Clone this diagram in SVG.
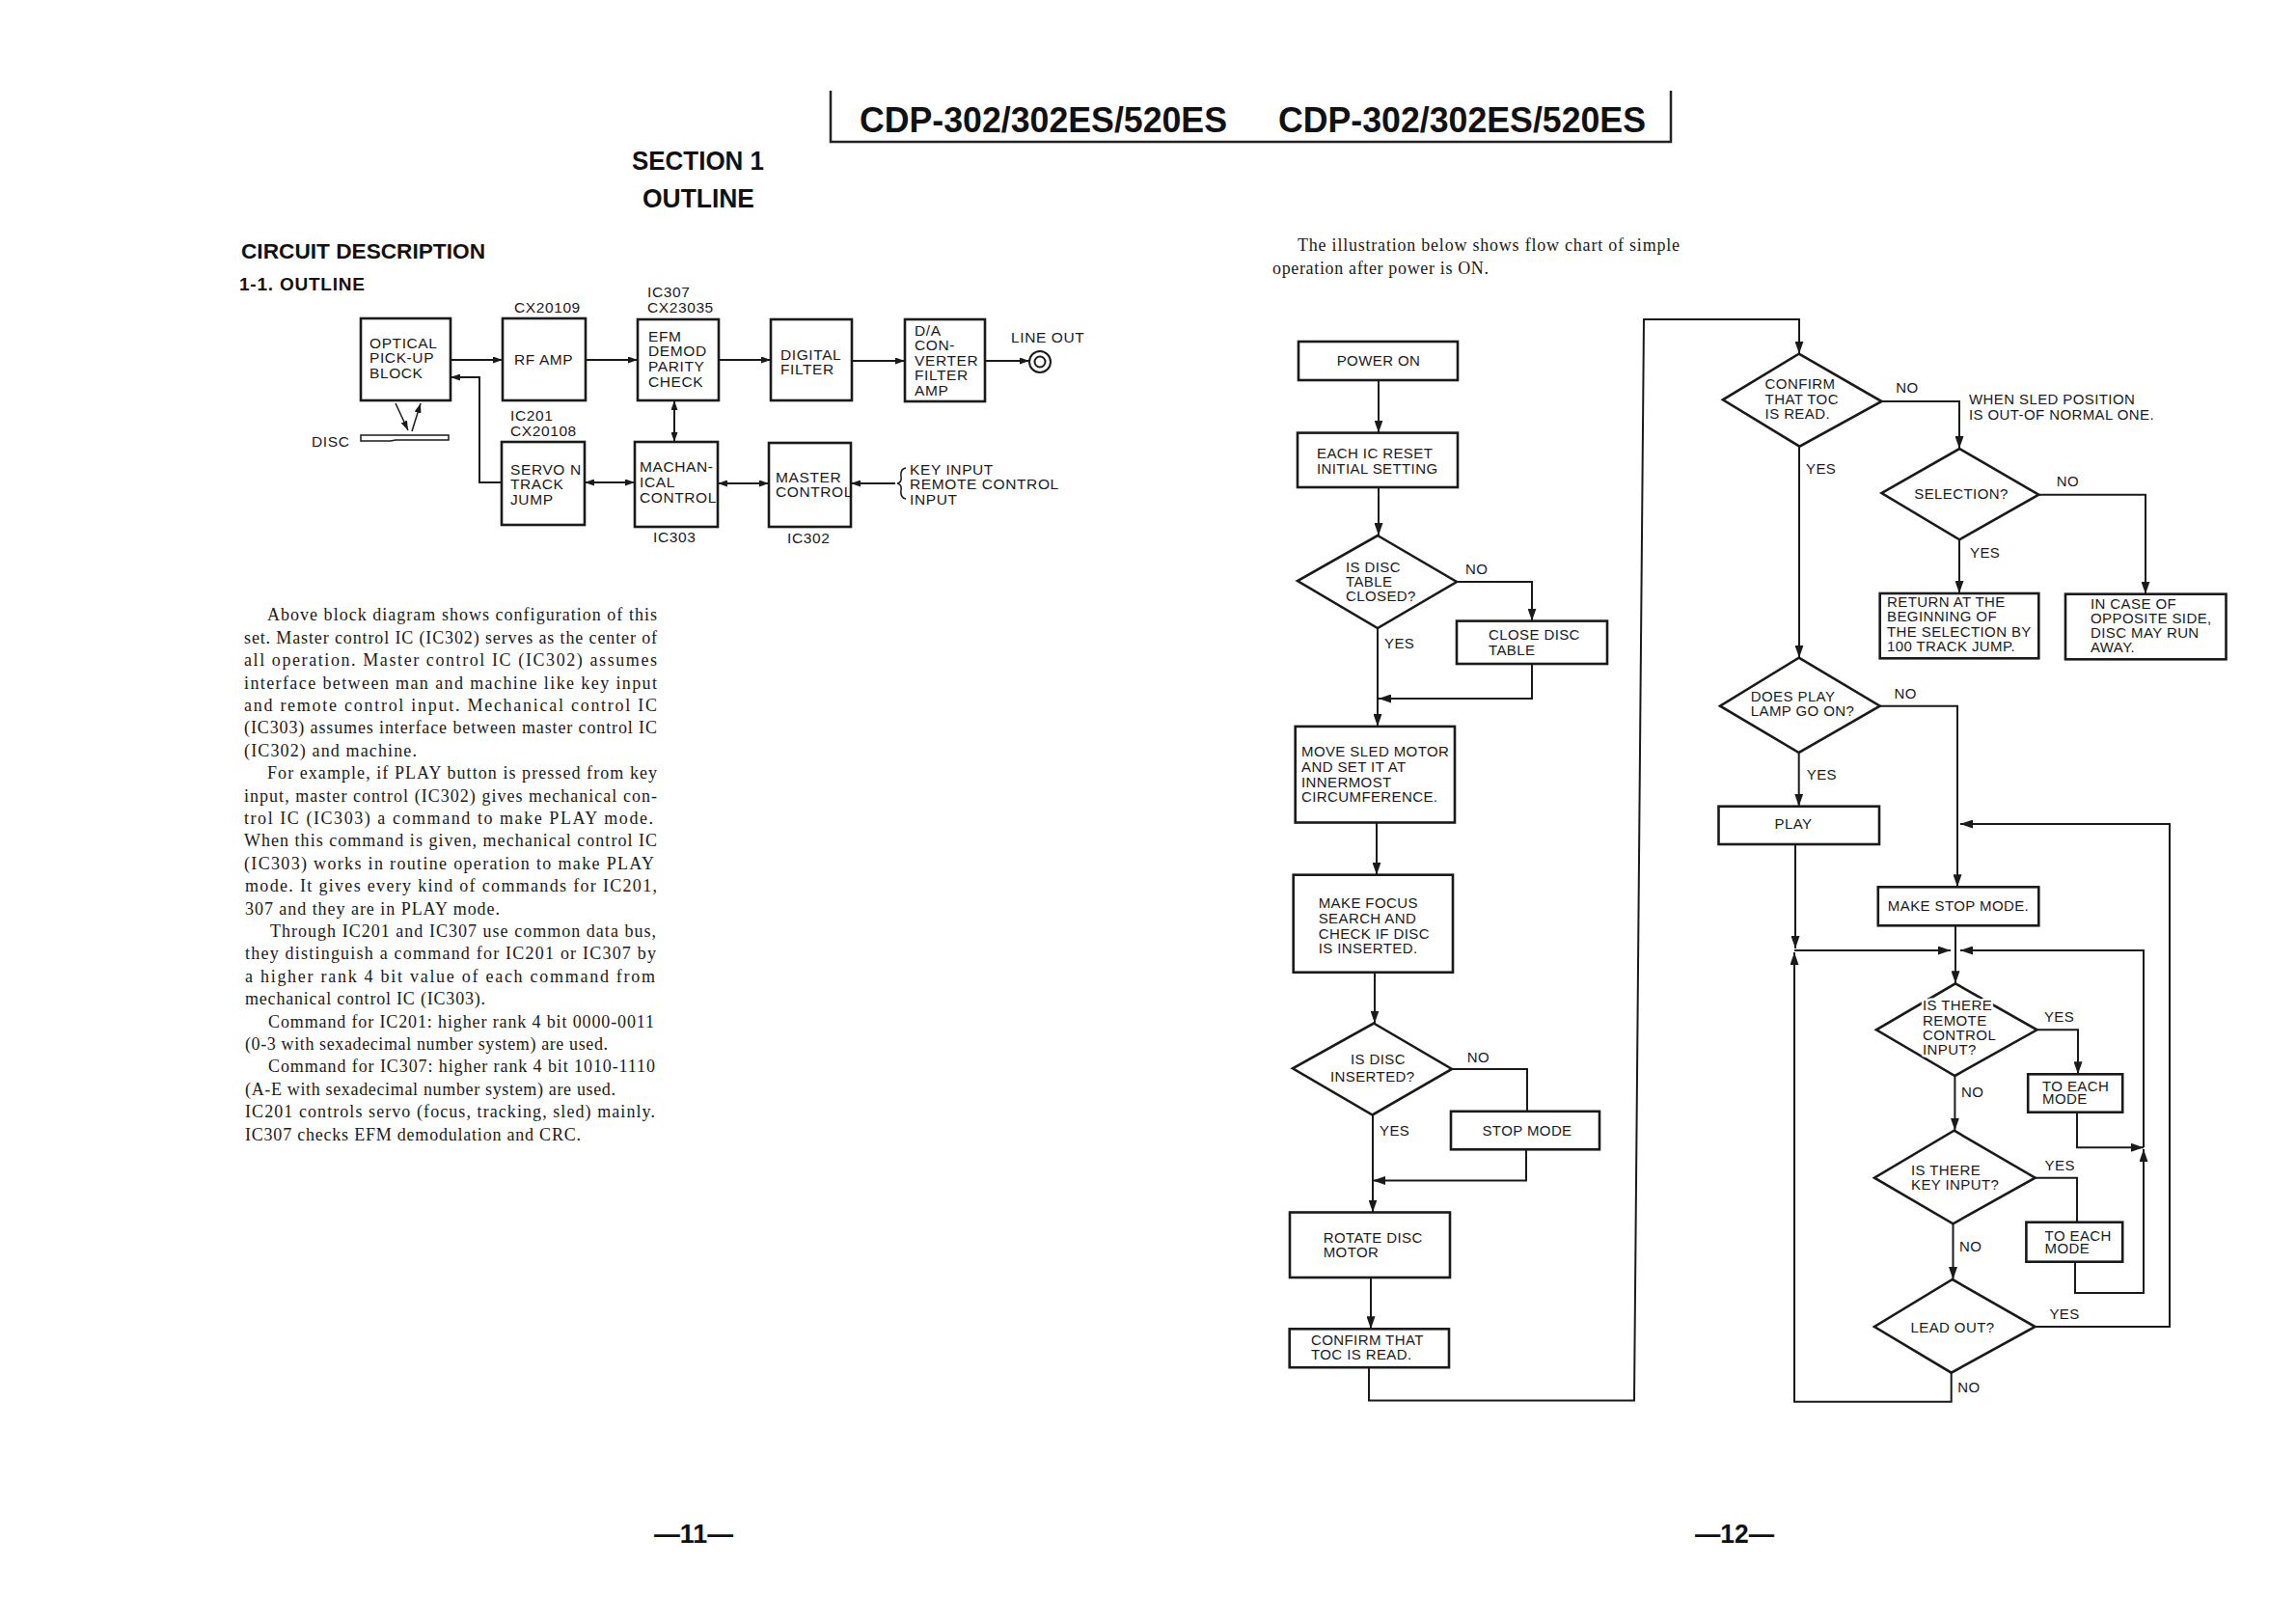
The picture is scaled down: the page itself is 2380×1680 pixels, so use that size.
<svg xmlns="http://www.w3.org/2000/svg" width="2380" height="1680" viewBox="0 0 2380 1680">
<style>
.bg{fill:#ffffff}
.box{fill:#ffffff;stroke:#1a1a1a;stroke-width:2.6}
.ln{fill:none;stroke:#1a1a1a;stroke-width:2}
.thin{fill:none;stroke:#1a1a1a;stroke-width:1.5}
.fc{font-family:"Liberation Sans",Arial,sans-serif;font-size:15px;letter-spacing:0.4px;fill:#1a1a1a}
.bd{font-family:"Liberation Sans",Arial,sans-serif;font-size:15.5px;letter-spacing:0.6px;fill:#1a1a1a}
.para{font-family:"Liberation Serif","Times New Roman",serif;font-size:18px;fill:#1a1a1a}
.hdr{font-family:"Liberation Sans",Arial,sans-serif;font-weight:bold;fill:#111}
.halo{stroke:#ffffff;stroke-width:5px;paint-order:stroke;stroke-linejoin:round}
.mid{text-anchor:middle}
</style>
<defs>
<marker id="ah" markerUnits="userSpaceOnUse" markerWidth="13" markerHeight="9" refX="13" refY="4.5" orient="auto-start-reverse">
<path d="M0,0 L13,4.5 L0,9 z" fill="#1a1a1a"/>
</marker>
<marker id="as" markerUnits="userSpaceOnUse" markerWidth="10" markerHeight="7" refX="10" refY="3.5" orient="auto-start-reverse">
<path d="M0,0 L10,3.5 L0,7 z" fill="#1a1a1a"/>
</marker>
</defs>
<rect class="bg" x="0" y="0" width="2380" height="1680"/>

<!-- Header -->
<g id="header">
<path d="M861,94 V147 H1732 V94" fill="none" stroke="#222" stroke-width="2.5"/>
<text class="hdr" x="891" y="137" font-size="37" textLength="381" lengthAdjust="spacingAndGlyphs">CDP-302/302ES/520ES</text>
<text class="hdr" x="1325" y="137" font-size="37" textLength="381" lengthAdjust="spacingAndGlyphs">CDP-302/302ES/520ES</text>
</g>
<g id="section-title">
<text class="hdr" x="655" y="176" font-size="28" textLength="137" lengthAdjust="spacingAndGlyphs">SECTION 1</text>
<text class="hdr" x="666" y="215" font-size="28" textLength="116" lengthAdjust="spacingAndGlyphs">OUTLINE</text>
<text class="hdr" x="250" y="268" font-size="22" textLength="253" lengthAdjust="spacingAndGlyphs">CIRCUIT DESCRIPTION</text>
<text class="hdr" x="248" y="301" font-size="19" textLength="130" lengthAdjust="spacing">1-1.  OUTLINE</text>
</g>

<!-- Block diagram connectors -->
<g id="block-connectors">
<path class="ln" d="M467,373 H521" marker-end="url(#as)"/>
<path class="ln" d="M607,373 H661" marker-end="url(#as)"/>
<path class="ln" d="M745,373 H799" marker-end="url(#as)"/>
<path class="ln" d="M883,374 H938" marker-end="url(#as)"/>
<path class="ln" d="M1021,374 H1067" marker-end="url(#as)"/>
<path class="ln" d="M520,500 H497 V391 H467" marker-end="url(#as)"/>
<path class="ln" d="M699,415 V458" marker-start="url(#as)" marker-end="url(#as)"/>
<path class="ln" d="M606,500 H658" marker-start="url(#as)" marker-end="url(#as)"/>
<path class="ln" d="M744,501 H797" marker-start="url(#as)" marker-end="url(#as)"/>
<path class="ln" d="M928,501 H882" marker-end="url(#as)"/>
<path class="thin" d="M410,418 L423,446" marker-end="url(#as)"/>
<path class="thin" d="M427,447 L436,418" marker-end="url(#as)"/>
</g>

<!-- Block diagram nodes -->
<g id="b-optical">
<rect class="box" x="374" y="330" width="93" height="85"/>
<text class="bd" x="383" y="361">OPTICAL</text>
<text class="bd" x="383" y="376">PICK-UP</text>
<text class="bd" x="383" y="392">BLOCK</text>
</g>
<g id="b-disc">
<text class="bd" x="323" y="463">DISC</text>
<path d="M374,451 H465 V456 H410 L405,457 H374 Z" fill="none" stroke="#1a1a1a" stroke-width="1.5"/>
</g>
<g id="b-rfamp">
<text class="bd" x="533" y="324">CX20109</text>
<rect class="box" x="521" y="330" width="86" height="85"/>
<text class="bd" x="533" y="378">RF AMP</text>
</g>
<g id="b-efm">
<text class="bd" x="671" y="308">IC307</text>
<text class="bd" x="671" y="324">CX23035</text>
<rect class="box" x="661" y="331" width="84" height="84"/>
<text class="bd" x="672" y="354">EFM</text>
<text class="bd" x="672" y="369">DEMOD</text>
<text class="bd" x="672" y="385">PARITY</text>
<text class="bd" x="672" y="401">CHECK</text>
</g>
<g id="b-digital">
<rect class="box" x="799" y="331" width="84" height="84"/>
<text class="bd" x="809" y="373">DIGITAL</text>
<text class="bd" x="809" y="388">FILTER</text>
</g>
<g id="b-da">
<rect class="box" x="938" y="331" width="83" height="85"/>
<text class="bd" x="948" y="348">D/A</text>
<text class="bd" x="948" y="363">CON-</text>
<text class="bd" x="948" y="379">VERTER</text>
<text class="bd" x="948" y="394">FILTER</text>
<text class="bd" x="948" y="410">AMP</text>
</g>
<g id="b-lineout">
<text class="bd" x="1048" y="355">LINE OUT</text>
<circle cx="1078" cy="375" r="11" fill="#fff" stroke="#1a1a1a" stroke-width="2"/>
<circle cx="1078" cy="375" r="5.5" fill="#fff" stroke="#1a1a1a" stroke-width="2"/>
</g>
<g id="b-servo">
<text class="bd" x="529" y="436">IC201</text>
<text class="bd" x="529" y="452">CX20108</text>
<rect class="box" x="520" y="458" width="86" height="86"/>
<text class="bd" x="529" y="492">SERVO N</text>
<text class="bd" x="529" y="507">TRACK</text>
<text class="bd" x="529" y="523">JUMP</text>
</g>
<g id="b-mech">
<rect class="box" x="658" y="458" width="86" height="88"/>
<text class="bd" x="663" y="489">MACHAN-</text>
<text class="bd" x="663" y="505">ICAL</text>
<text class="bd" x="663" y="521">CONTROL</text>
<text class="bd" x="677" y="562">IC303</text>
</g>
<g id="b-master">
<rect class="box" x="797" y="459" width="85" height="87"/>
<text class="bd" x="804" y="500">MASTER</text>
<text class="bd" x="804" y="515">CONTROL</text>
<text class="bd" x="816" y="563">IC302</text>
</g>
<g id="b-input">
<path d="M939,485 Q933,486 934,494 Q935,500 930,501 Q935,502 934,508 Q933,516 939,517" fill="none" stroke="#1a1a1a" stroke-width="1.5"/>
<text class="bd" x="943" y="492">KEY INPUT</text>
<text class="bd" x="943" y="507">REMOTE CONTROL</text>
<text class="bd" x="943" y="523">INPUT</text>
</g>

<!-- Paragraph text -->
<g id="paragraph">
<text class="para" x="277" y="643.3" textLength="404" lengthAdjust="spacing">Above block diagram shows configuration of this</text>
<text class="para" x="253" y="666.7" textLength="428" lengthAdjust="spacing">set.  Master control IC (IC302) serves as the center of</text>
<text class="para" x="253" y="690.1" textLength="428" lengthAdjust="spacing">all operation.  Master control IC (IC302) assumes</text>
<text class="para" x="253" y="713.5" textLength="428" lengthAdjust="spacing">interface between man and machine like key input</text>
<text class="para" x="253" y="736.9" textLength="428" lengthAdjust="spacing">and remote control input.  Mechanical control IC</text>
<text class="para" x="253" y="760.3" textLength="428" lengthAdjust="spacing">(IC303) assumes interface between master control IC</text>
<text class="para" x="253" y="783.7" textLength="179" lengthAdjust="spacing">(IC302) and machine.</text>
<text class="para" x="277" y="807.1" textLength="404" lengthAdjust="spacing">For example, if PLAY button is pressed from key</text>
<text class="para" x="253" y="830.5" textLength="428" lengthAdjust="spacing">input, master control (IC302) gives mechanical con-</text>
<text class="para" x="253" y="853.9" textLength="424" lengthAdjust="spacing">trol IC (IC303) a command to make PLAY mode.</text>
<text class="para" x="253" y="877.3" textLength="428" lengthAdjust="spacing">When this command is given, mechanical control IC</text>
<text class="para" x="253" y="900.7" textLength="425" lengthAdjust="spacing">(IC303) works in routine operation to make PLAY</text>
<text class="para" x="254" y="924.1" textLength="427" lengthAdjust="spacing">mode.  It gives every kind of commands for IC201,</text>
<text class="para" x="254" y="947.5" textLength="264" lengthAdjust="spacing">307 and they are in PLAY mode.</text>
<text class="para" x="280" y="970.9" textLength="400" lengthAdjust="spacing">Through IC201 and IC307 use common data bus,</text>
<text class="para" x="254" y="994.3" textLength="426" lengthAdjust="spacing">they distinguish a command for IC201 or IC307 by</text>
<text class="para" x="254" y="1017.7" textLength="425" lengthAdjust="spacing">a higher rank 4 bit value of each command from</text>
<text class="para" x="254" y="1041.1" textLength="249" lengthAdjust="spacing">mechanical control IC (IC303).</text>
<text class="para" x="278" y="1064.5" textLength="400" lengthAdjust="spacing">Command for IC201:  higher rank 4 bit 0000-0011</text>
<text class="para" x="254" y="1087.9" textLength="376" lengthAdjust="spacing">(0-3 with sexadecimal number system) are used.</text>
<text class="para" x="278" y="1111.3" textLength="401" lengthAdjust="spacing">Command for IC307:  higher rank 4 bit 1010-1110</text>
<text class="para" x="254" y="1134.7" textLength="384" lengthAdjust="spacing">(A-E with sexadecimal number system) are used.</text>
<text class="para" x="254" y="1158.1" textLength="425" lengthAdjust="spacing">IC201 controls servo (focus, tracking, sled) mainly.</text>
<text class="para" x="254" y="1181.5" textLength="348" lengthAdjust="spacing">IC307 checks EFM demodulation and CRC.</text>
</g>

<g id="intro">
<text class="para" x="1345" y="260.4" textLength="396" lengthAdjust="spacing">The illustration below shows flow chart of simple</text>
<text class="para" x="1319" y="283.6" textLength="224" lengthAdjust="spacing">operation after power is ON.</text>
</g>

<!-- Flowchart connectors -->
<g id="connectors">
<path class="ln" d="M1429,394 V448.6" marker-end="url(#ah)"/>
<path class="ln" d="M1429,505 V555" marker-end="url(#ah)"/>
<path class="ln" d="M1510,603 H1588 V643.6" marker-end="url(#ah)"/>
<path class="ln" d="M1588,688 V724 H1429" marker-end="url(#ah)"/>
<path class="ln" d="M1428,651 V752.9" marker-end="url(#ah)"/>
<path class="ln" d="M1427,852.5 V906.7" marker-end="url(#ah)"/>
<path class="ln" d="M1425,1007.7 V1060.5" marker-end="url(#ah)"/>
<path class="ln" d="M1505,1108 H1583 V1151.8"/>
<path class="ln" d="M1582,1191.3 V1223.5 H1423" marker-end="url(#ah)"/>
<path class="ln" d="M1423,1155.5 V1256.5" marker-end="url(#ah)"/>
<path class="ln" d="M1421,1324 V1377.3" marker-end="url(#ah)"/>
<path class="ln" d="M1419,1417.2 V1451.6 H1694 L1704,331 H1865 V366.7" marker-end="url(#ah)"/>
<path class="ln" d="M1950.5,416 H2031 V465" marker-end="url(#ah)"/>
<path class="ln" d="M2113,512.7 H2224 V615.7" marker-end="url(#ah)"/>
<path class="ln" d="M2031,559.3 V615" marker-end="url(#ah)"/>
<path class="ln" d="M1865,462.7 V681.7" marker-end="url(#ah)"/>
<path class="ln" d="M1948.7,731.7 H2029 V919.3" marker-end="url(#ah)"/>
<path class="ln" d="M1864.7,780 V835.7" marker-end="url(#ah)"/>
<path class="ln" d="M1861,875 V983" marker-end="url(#ah)"/>
<path class="ln" d="M1860,985 H2022" marker-end="url(#ah)"/>
<path class="ln" d="M2027,959.3 V1019.3" marker-end="url(#ah)"/>
<path class="ln" d="M2222,1189.3 V985 H2032" marker-end="url(#ah)"/>
<path class="ln" d="M2153,1152.7 V1189.3 H2222" marker-end="url(#ah)"/>
<path class="ln" d="M2151,1307.7 V1340 H2222 V1191" marker-end="url(#ah)"/>
<path class="ln" d="M2111.5,1067.3 H2154 V1113.3" marker-end="url(#ah)"/>
<path class="ln" d="M2026.4,1115 V1171.7" marker-end="url(#ah)"/>
<path class="ln" d="M2109.6,1220.7 H2153 V1266.7"/>
<path class="ln" d="M2024.5,1268.3 V1326" marker-end="url(#ah)"/>
<path class="ln" d="M2109.6,1375 H2249 V854 H2032" marker-end="url(#ah)"/>
<path class="ln" d="M2022.7,1422.7 V1452.7 H1860 V987" marker-end="url(#ah)"/>
</g>

<!-- Flowchart nodes: left column -->
<g id="n-power-on">
<rect class="box" x="1346" y="354" width="165" height="40"/>
<text class="fc mid" x="1429" y="379">POWER ON</text>
</g>
<g id="n-reset">
<rect class="box" x="1345" y="448.6" width="166" height="56.4"/>
<text class="fc" x="1365" y="474.6">EACH IC RESET</text>
<text class="fc" x="1365" y="490.7">INITIAL SETTING</text>
</g>
<g id="n-table-closed">
<polygon class="box" points="1428,555 1510,603 1428,651 1345,602"/>
<text class="fc" x="1395" y="592.5">IS DISC</text>
<text class="fc" x="1395" y="607.9">TABLE</text>
<text class="fc" x="1395" y="622.9">CLOSED?</text>
<text class="fc" x="1519" y="595">NO</text>
<text class="fc" x="1435" y="671.8">YES</text>
</g>
<g id="n-close-table">
<rect class="box" x="1510" y="643.6" width="156" height="44.4"/>
<text class="fc" x="1543" y="663">CLOSE DISC</text>
<text class="fc" x="1543" y="678.6">TABLE</text>
</g>
<g id="n-sled">
<rect class="box" x="1342.7" y="752.9" width="165.3" height="99.6"/>
<text class="fc" x="1349" y="783.6">MOVE SLED MOTOR</text>
<text class="fc" x="1349" y="799.7">AND SET IT AT</text>
<text class="fc" x="1349" y="815.8">INNERMOST</text>
<text class="fc" x="1349" y="831">CIRCUMFERENCE.</text>
</g>
<g id="n-focus">
<rect class="box" x="1340.7" y="906.7" width="165.3" height="101"/>
<text class="fc" x="1366.7" y="941">MAKE FOCUS</text>
<text class="fc" x="1366.7" y="957">SEARCH AND</text>
<text class="fc" x="1366.7" y="972.8">CHECK IF DISC</text>
<text class="fc" x="1366.7" y="988">IS INSERTED.</text>
</g>
<g id="n-disc-inserted">
<polygon class="box" points="1424,1060.5 1505,1108 1422.7,1155.5 1340,1107.3"/>
<text class="fc" x="1400" y="1102.7">IS DISC</text>
<text class="fc" x="1379" y="1121">INSERTED?</text>
<text class="fc" x="1520.7" y="1101">NO</text>
<text class="fc" x="1430" y="1177">YES</text>
</g>
<g id="n-stop-mode">
<rect class="box" x="1504" y="1151.8" width="154" height="39.5"/>
<text class="fc mid" x="1583" y="1177">STOP MODE</text>
</g>
<g id="n-rotate">
<rect class="box" x="1337" y="1256.5" width="166" height="67.5"/>
<text class="fc" x="1371.7" y="1287.7">ROTATE DISC</text>
<text class="fc" x="1371.7" y="1303.3">MOTOR</text>
</g>
<g id="n-confirm-toc">
<rect class="box" x="1336.7" y="1377.3" width="165.3" height="39.9"/>
<text class="fc" x="1359" y="1394.3">CONFIRM THAT</text>
<text class="fc" x="1359" y="1409.4">TOC IS READ.</text>
</g>

<!-- Flowchart nodes: right column -->
<g id="n-toc-read">
<polygon class="box" points="1864.7,366.7 1950.5,416 1865.4,462.7 1785.9,414.3"/>
<text class="fc" x="1829.6" y="403.3">CONFIRM</text>
<text class="fc" x="1829.6" y="419">THAT TOC</text>
<text class="fc" x="1829.6" y="434">IS READ.</text>
<text class="fc" x="1965.3" y="406.7">NO</text>
<text class="fc" x="1872" y="490.7">YES</text>
</g>
<g id="n-sled-note">
<text class="fc" x="2041" y="419.3">WHEN SLED POSITION</text>
<text class="fc" x="2041" y="435">IS OUT-OF NORMAL ONE.</text>
</g>
<g id="n-selection">
<polygon class="box" points="2031.2,465 2113.3,512.7 2031.2,559.3 1950.5,511"/>
<text class="fc mid" x="2033" y="516.7">SELECTION?</text>
<text class="fc" x="2131.8" y="504.3">NO</text>
<text class="fc" x="2042" y="578.3">YES</text>
</g>
<g id="n-return">
<rect class="box" x="1948.7" y="615" width="164.6" height="67.3"/>
<text class="fc" x="1956" y="629.3">RETURN AT THE</text>
<text class="fc" x="1956" y="644.3">BEGINNING OF</text>
<text class="fc" x="1956" y="660">THE SELECTION BY</text>
<text class="fc" x="1956" y="675">100 TRACK JUMP.</text>
</g>
<g id="n-opposite">
<rect class="box" x="2141" y="615.7" width="166.5" height="67.6"/>
<text class="fc" x="2167" y="630.7">IN CASE OF</text>
<text class="fc" x="2167" y="646">OPPOSITE SIDE,</text>
<text class="fc" x="2167" y="661">DISC MAY RUN</text>
<text class="fc" x="2167" y="676">AWAY.</text>
</g>
<g id="n-play-lamp">
<polygon class="box" points="1864.7,681.7 1948.7,731.7 1864.7,780 1783,731.7"/>
<text class="fc" x="1814.8" y="726.7">DOES PLAY</text>
<text class="fc" x="1814.8" y="742.3">LAMP GO ON?</text>
<text class="fc" x="1963.5" y="724">NO</text>
<text class="fc" x="1872.8" y="807.7">YES</text>
</g>
<g id="n-play">
<rect class="box" x="1781.5" y="835.7" width="166.5" height="39.3"/>
<text class="fc" x="1839.5" y="859.3">PLAY</text>
</g>
<g id="n-make-stop">
<rect class="box" x="1946.8" y="919.3" width="166.5" height="40"/>
<text class="fc mid" x="2030" y="944">MAKE STOP MODE.</text>
</g>
<g id="n-remote">
<polygon class="box" points="2027,1019.3 2111.5,1067.3 2026.4,1115 1945,1067.3"/>
<text class="fc halo" x="1993" y="1047.3">IS THERE</text>
<text class="fc halo" x="1993" y="1062.7">REMOTE</text>
<text class="fc halo" x="1993" y="1078.3">CONTROL</text>
<text class="fc halo" x="1993" y="1093.3">INPUT?</text>
<text class="fc" x="2118.9" y="1059.3">YES</text>
<text class="fc" x="2033" y="1136.7">NO</text>
</g>
<g id="n-each-mode-1">
<rect class="box" x="2102.2" y="1113.3" width="98" height="39.4"/>
<text class="fc" x="2117" y="1130.7">TO EACH</text>
<text class="fc" x="2117" y="1144">MODE</text>
</g>
<g id="n-key">
<polygon class="box" points="2025.6,1171.7 2109.6,1220.7 2024.5,1268.3 1943,1220.7"/>
<text class="fc" x="1981" y="1217.7">IS THERE</text>
<text class="fc" x="1981" y="1232.7">KEY INPUT?</text>
<text class="fc" x="2119.6" y="1213.3">YES</text>
<text class="fc" x="2031" y="1296.7">NO</text>
</g>
<g id="n-each-mode-2">
<rect class="box" x="2100.4" y="1266.7" width="99.8" height="41"/>
<text class="fc" x="2119.6" y="1286">TO EACH</text>
<text class="fc" x="2119.6" y="1299.3">MODE</text>
</g>
<g id="n-lead-out">
<polygon class="box" points="2023.8,1326 2109.6,1375 2022.7,1422.7 1943,1375"/>
<text class="fc mid" x="2024" y="1381">LEAD OUT?</text>
<text class="fc" x="2124.4" y="1367.3">YES</text>
<text class="fc" x="2029.3" y="1443.3">NO</text>
</g>

<g id="page-numbers">
<text class="hdr" x="678" y="1599" font-size="28" font-weight="normal" textLength="82" lengthAdjust="spacingAndGlyphs">—11—</text>
<text class="hdr" x="1757" y="1599" font-size="28" font-weight="normal" textLength="82" lengthAdjust="spacingAndGlyphs">—12—</text>
</g>
</svg>
